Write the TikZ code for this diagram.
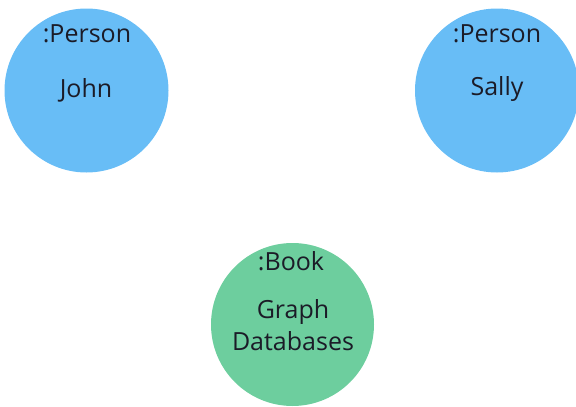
\documentclass[tikz,border=0pt]{standalone}
\usepackage{fontspec}
\setmainfont{Open Sans}
\definecolor{personblue}{HTML}{68BDF6}
\definecolor{bookgreen}{HTML}{6DCE9E}
\definecolor{labelink}{HTML}{1B1B27}
\begin{document}
\begin{tikzpicture}[x=1pt,y=-1pt,
  entity/.style={circle, draw=none, inner sep=0pt, minimum size=164pt},
  lbl/.style={inner sep=0pt, anchor=base, text=labelink,
    font=\fontsize{25}{30}\selectfont}]
\useasboundingbox (0,0) rectangle (576,407);
% graph nodes
\node[entity, fill=personblue] (john)  at (86.5,90.5) {};
\node[entity, fill=personblue] (sally) at (497,90.5) {};
\node[entity, fill=bookgreen, minimum size=163pt] (book) at (292.5,324.5) {};
% labels and properties
\node[lbl] (johnlabel)  at (87,42) {:Person};
\node[lbl] (johnname)   at (86,97) {John};
\node[lbl] (sallylabel) at (497,42) {:Person};
\node[lbl] (sallyname)  at (497,95) {Sally};
\node[lbl] (booklabel)  at (291,270) {:Book};
\node[lbl] (booktitle1) at (293,318) {Graph};
\node[lbl] (booktitle2) at (293,350) {Databases};
\end{tikzpicture}
\end{document}
